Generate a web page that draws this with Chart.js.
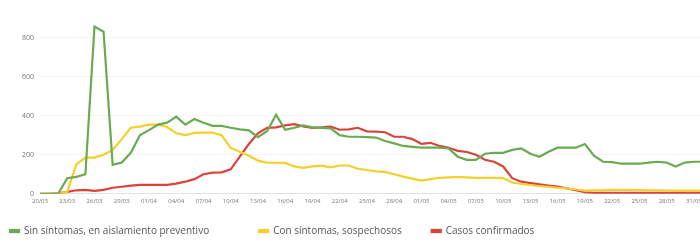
<!DOCTYPE html>
<html>
<head>
<meta charset="utf-8">
<script src="https://cdn.jsdelivr.net/npm/chart.js@4/dist/chart.umd.min.js"></script>
<style>
    html, body { margin: 0; padding: 0; background: #fff; overflow: hidden; }
    #wrap { width: 712px; height: 246px; }
</style>
</head>
<body>
<div id="wrap"><canvas id="chartCanvas" width="712" height="246"></canvas></div>
<script>
// dates (dd/mm), one per day
const fechas = [
    "20/03","21/03","22/03","23/03","24/03","25/03","26/03","27/03","28/03","29/03","30/03","31/03",
    "01/04","02/04","03/04","04/04","05/04","06/04","07/04","08/04","09/04","10/04","11/04","12/04",
    "13/04","14/04","15/04","16/04","17/04","18/04","19/04","20/04","21/04","22/04","23/04","24/04",
    "25/04","26/04","27/04","28/04","29/04","30/04","01/05","02/05","03/05","04/05","05/05","06/05",
    "07/05","08/05","09/05","10/05","11/05","12/05","13/05","14/05","15/05","16/05","17/05","18/05",
    "19/05","20/05","21/05","22/05","23/05","24/05","25/05","26/05","27/05","28/05","29/05","30/05",
    "31/05","01/06","02/06"
];

const sinSintomas = [
    0, 0, 0, 80, 87, 100, 856, 830, 148, 160, 210, 300,
    326, 354, 364, 395, 354, 383, 364, 348, 348, 338, 330, 325,
    290, 320, 405, 328, 338, 350, 340, 338, 335, 300, 292, 292,
    290, 288, 270, 258, 245, 240, 236, 236, 236, 232, 190, 174,
    174, 205, 210, 210, 225, 232, 205, 190, 215, 236, 236, 236,
    255, 195, 164, 162, 154, 154, 154, 160, 164, 160, 140, 160,
    164, 164, 164
];

const conSintomas = [
    0, 0, 0, 10, 150, 185, 185, 200, 225, 280, 338, 344,
    354, 354, 342, 310, 300, 312, 313, 313, 300, 235, 215, 195,
    170, 159, 159, 158, 140, 133, 140, 144, 135, 145, 145, 128,
    122, 115, 112, 100, 88, 78, 68, 75, 82, 84, 86, 84,
    82, 82, 82, 80, 58, 50, 45, 40, 35, 31, 28, 22,
    16, 18, 18, 20, 20, 20, 19, 18, 18, 17, 16, 16,
    16, 15, 15
];

const confirmados = [
    0, 0, 2, 10, 18, 20, 15, 20, 31, 36, 42, 46,
    46, 46, 46, 52, 62, 75, 100, 108, 110, 125, 190, 255,
    310, 338, 340, 350, 357, 345, 338, 340, 344, 328, 330, 338,
    320, 318, 315, 292, 292, 280, 256, 261, 245, 236, 220, 214,
    200, 174, 164, 140, 80, 62, 55, 48, 42, 37, 28, 18,
    8, 5, 5, 5, 5, 5, 5, 5, 5, 5, 5, 5,
    5, 5, 5
];

const yTicks = [0, 200, 400, 600, 800];

// extra space after each legend entry (em spaces)
const legendGaps = ["\u2003\u2003\u2003\u2003", "\u2003\u2003", ""];

const ctx = document.getElementById("chartCanvas").getContext("2d");

const lineStyle = {
    borderWidth: 2.2,
    tension: 0,
    pointRadius: 0,
    fill: false
};

new Chart(ctx, {
    type: "line",
    data: {
        labels: fechas,
        datasets: [
            { label: "Sin síntomas, en aislamiento preventivo", data: sinSintomas, borderColor: "#69aa52", backgroundColor: "#69aa52", ...lineStyle },
            { label: "Con síntomas, sospechosos", data: conSintomas, borderColor: "#f3d02a", backgroundColor: "#f3d02a", ...lineStyle },
            { label: "Casos confirmados", data: confirmados, borderColor: "#d8443a", backgroundColor: "#d8443a", ...lineStyle }
        ]
    },
    options: {
        responsive: false,
        animation: false,
        layout: { padding: { top: 18, left: 0, right: 0, bottom: 0 } },
        plugins: {
            legend: {
                position: "bottom",
                align: "start",
                labels: {
                    color: "#555",
                    boxWidth: 9,
                    boxHeight: 2,
                    padding: 10,
                    font: { family: "Open Sans", size: 10 },
                    generateLabels: function (chart) {
                        const items = Chart.defaults.plugins.legend.labels.generateLabels(chart);
                        items.forEach((it, i) => { it.text = it.text + legendGaps[i]; });
                        return items;
                    }
                }
            },
            tooltip: { enabled: false }
        },
        scales: {
            x: {
                afterFit: function (axis) { axis.height += 7; },
                grid: { display: false, drawTicks: false },
                border: { color: "#e2e2e2" },
                ticks: {
                    autoSkip: false,
                    maxRotation: 0,
                    padding: 4,
                    color: "#777",
                    font: { family: "Open Sans", size: 6 },
                    callback: function (value, index) {
                        return index % 3 === 0 ? fechas[index] : null;
                    }
                }
            },
            y: {
                min: 0,
                max: 900,
                afterBuildTicks: function (axis) {
                    axis.ticks = yTicks.map(v => ({ value: v }));
                },
                afterFit: function (axis) { axis.width = 40; },
                grid: { color: "rgba(0,0,0,0.045)", drawTicks: false },
                border: { display: false },
                ticks: {
                    padding: 6,
                    color: "#777",
                    font: { family: "Open Sans", size: 7 }
                }
            }
        }
    }
});
</script>
</body>
</html>
